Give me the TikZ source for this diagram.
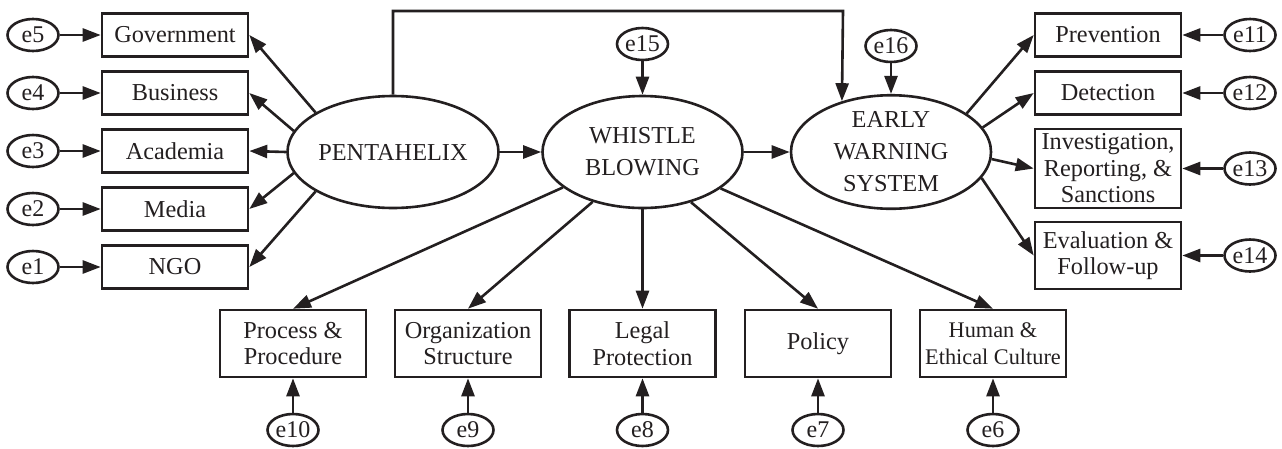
\documentclass[tikz,border=0pt]{standalone}
\usepackage{fontspec}
\setmainfont{Liberation Serif}
\usetikzlibrary{arrows.meta,shapes.geometric}
\definecolor{ink}{RGB}{35,31,32}
\begin{document}
\begin{tikzpicture}[x=1pt,y=-1pt,
  obs/.style={draw=ink, line width=2.6pt, rectangle, minimum width=146, minimum height=43, inner sep=0pt, align=center, text=ink, font=\fontsize{24.3}{26.5}\selectfont},
  err/.style={draw=ink, line width=2.6pt, ellipse, minimum width=51, minimum height=32, inner sep=0pt, text=ink, font=\fontsize{24}{26.5}\selectfont},
  lat/.style={draw=ink, line width=2.6pt, ellipse, minimum width=200, minimum height=112, inner sep=0pt, align=center, text=ink, font=\fontsize{24.3}{32}\selectfont},
  arr/.style={draw=ink, line width=2.6pt, -{Triangle[length=18pt,width=13pt]}}
]
\useasboundingbox (0,0) rectangle (1282,448);

% latent variables
\node[lat] (P) at (393,152) {PENTAHELIX};
\node[lat] (WB) at (642.5,152) {WHISTLE\\BLOWING};
\node[lat] (EWS) at (891,152) {EARLY\\WARNING\\SYSTEM};

% left indicators
\node[obs] (gov) at (175,35) {Government};
\node[obs] (bus) at (175,93) {Business};
\node[obs] (aca) at (175,151) {Academia};
\node[obs] (med) at (175,209) {Media};
\node[obs] (ngo) at (175,267) {NGO};
\node[err] (e5) at (33,35) {e5};
\node[err] (e4) at (33,93) {e4};
\node[err] (e3) at (33,151) {e3};
\node[err] (e2) at (33,209) {e2};
\node[err] (e1) at (33,267) {e1};

% right indicators
\node[obs] (prev) at (1108,35) {Prevention};
\node[obs] (det) at (1108,93) {Detection};
\node[obs, minimum height=79] (inv) at (1108,168.5) {Investigation,\\Reporting, \&\\Sanctions};
\node[obs, minimum height=67] (eva) at (1108,255.5) {Evaluation \&\\Follow-up};
\node[err] (e11) at (1250,35) {e11};
\node[err] (e12) at (1250,93) {e12};
\node[err] (e13) at (1250,168.5) {e13};
\node[err] (e14) at (1250,255.5) {e14};

% bottom indicators
\node[obs, minimum height=67] (proc) at (293,343.5) {Process \&\\Procedure};
\node[obs, minimum height=67] (org) at (468,343.5) {Organization\\Structure};
\node[obs, minimum height=67] (leg) at (642.5,343.5) {Legal\\Protection};
\node[obs, minimum height=67] (pol) at (818,343.5) {Policy};
\node[obs, minimum height=67, font=\fontsize{22.3}{26.5}\selectfont] (hum) at (993,343.5) {Human \&\\Ethical Culture};
\node[err] (e10) at (293,430) {e10};
\node[err] (e9) at (468,430) {e9};
\node[err] (e8) at (642.5,430) {e8};
\node[err] (e7) at (818,430) {e7};
\node[err] (e6) at (993,430) {e6};

% disturbances
\node[err] (e15) at (642.5,44) {e15};
\node[err] (e16) at (891,46) {e16};

% structural paths
\draw[arr] (P) -- (WB);
\draw[arr] (WB) -- (EWS);
\coordinate (tl) at (393,11);
\coordinate (tr) at (843,11);
\draw[arr, line join=miter] (P.north) -- (tl) -- (tr) -- (EWS.134.35);
\draw[arr] (e15) -- (WB.north);
\draw[arr] (e16) -- (EWS.north);

% PENTAHELIX loadings
\draw[arr] (P.153) -- (gov.east);
\draw[arr] (P.168) -- (bus.east);
\draw[arr] (P.180) -- (aca.east);
\draw[arr] (P.192) -- (med.east);
\draw[arr] (P.207) -- (ngo.east);

% EWS loadings
\draw[arr] (EWS.27) -- (prev.west);
\draw[arr] (EWS.15) -- (det.west);
\draw[arr] (EWS.-4) -- (inv.west);
\draw[arr] (EWS.-16) -- (eva.west);

% WB loadings
\draw[arr] (WB.204) -- (proc.north);
\draw[arr] (WB.225) -- (org.north);
\draw[arr] (WB.south) -- (leg.north);
\draw[arr] (WB.314) -- (pol.north);
\draw[arr] (WB.335) -- (hum.north);

% errors
\draw[arr] (e5) -- (gov);
\draw[arr] (e4) -- (bus);
\draw[arr] (e3) -- (aca);
\draw[arr] (e2) -- (med);
\draw[arr] (e1) -- (ngo);
\draw[arr] (e11) -- (prev);
\draw[arr] (e12) -- (det);
\draw[arr] (e13) -- (inv);
\draw[arr] (e14) -- (eva);
\draw[arr] (e10) -- (proc);
\draw[arr] (e9) -- (org);
\draw[arr] (e8) -- (leg);
\draw[arr] (e7) -- (pol);
\draw[arr] (e6) -- (hum);
\end{tikzpicture}
\end{document}
